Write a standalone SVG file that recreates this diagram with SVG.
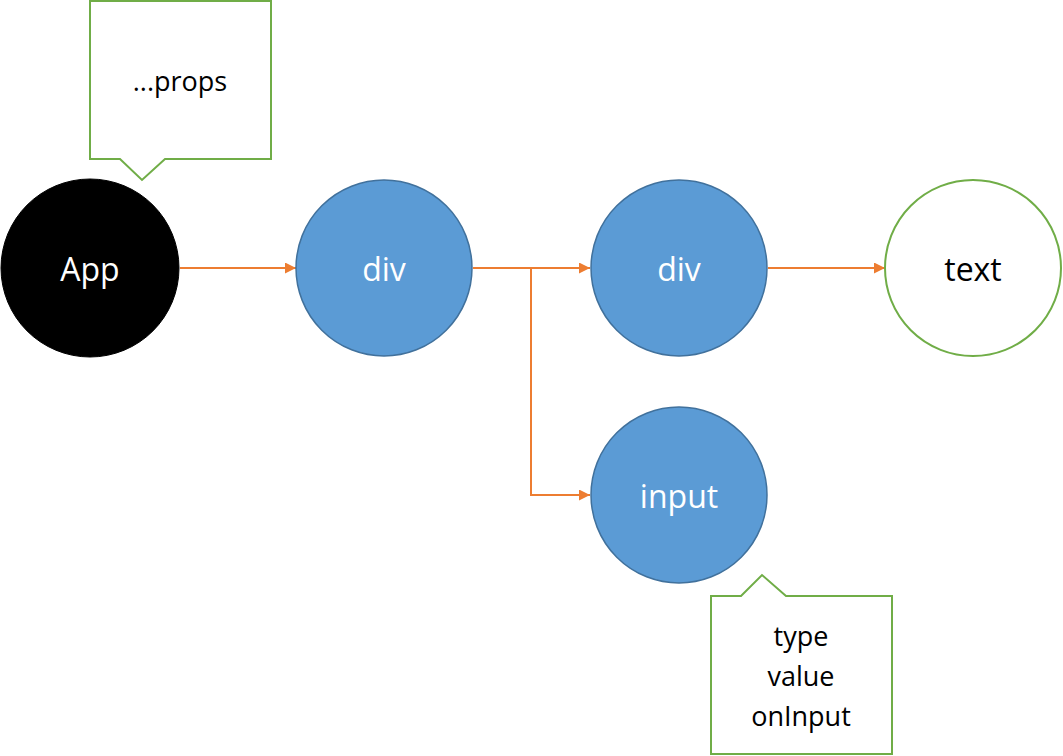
<svg xmlns="http://www.w3.org/2000/svg" width="1063" height="756" viewBox="0 0 1063 756">
<style>
.blue{fill:#5B9BD5;stroke:#41719C;stroke-width:1.5}
.lbl{font-family:"Open Sans","Liberation Sans",sans-serif;font-size:32px;text-anchor:middle;dominant-baseline:central}
.note{fill:#fff;stroke:#70AD47;stroke-width:2}
.nt{font-family:"Open Sans","Liberation Sans",sans-serif;font-size:27px;text-anchor:middle;fill:#000}
.edge{fill:none;stroke:#ED7D31;stroke-width:2}
</style>
<defs>
<marker id="arr" viewBox="0 0 10 10" refX="10" refY="5" markerWidth="5.5" markerHeight="5.5" orient="auto" markerUnits="strokeWidth">
<path d="M0,0L10,5L0,10z" fill="#ED7D31"/>
</marker>
</defs>
<rect width="1063" height="756" fill="#fff"/>
<g id="connectors">
<line class="edge" x1="180" y1="268" x2="296" y2="268" marker-end="url(#arr)"/>
<line class="edge" x1="473" y1="268" x2="590" y2="268" marker-end="url(#arr)"/>
<polyline class="edge" points="531,268 531,495 590,495" marker-end="url(#arr)"/>
<line class="edge" x1="768" y1="268" x2="885" y2="268" marker-end="url(#arr)"/>
</g>
<g id="props-note">
<path class="note" d="M90,1H271V159H165L142,180L120,159H90Z"/>
<text class="nt" x="180" y="91">...props</text>
</g>
<g id="app">
<circle cx="90" cy="268" r="89" fill="#000" stroke="#000"/>
<text class="lbl" x="90" y="268" fill="#fff">App</text>
</g>
<g id="div1">
<circle class="blue" cx="384" cy="268" r="88"/>
<text class="lbl" x="384" y="268" fill="#fff">div</text>
</g>
<g id="div2">
<circle class="blue" cx="679" cy="268" r="88"/>
<text class="lbl" x="679" y="268" fill="#fff">div</text>
</g>
<g id="text">
<circle cx="973" cy="268" r="88" fill="#fff" stroke="#70AD47" stroke-width="2"/>
<text class="lbl" x="973" y="268" fill="#000">text</text>
</g>
<g id="input">
<circle class="blue" cx="679" cy="495" r="88"/>
<text class="lbl" x="679" y="495" fill="#fff">input</text>
</g>
<g id="input-note">
<path class="note" d="M711,596H741L762,575L786,596H892V754H711Z"/>
<text class="nt" x="801" y="646">type</text>
<text class="nt" x="801" y="686">value</text>
<text class="nt" x="801" y="726">onInput</text>
</g>
</svg>
